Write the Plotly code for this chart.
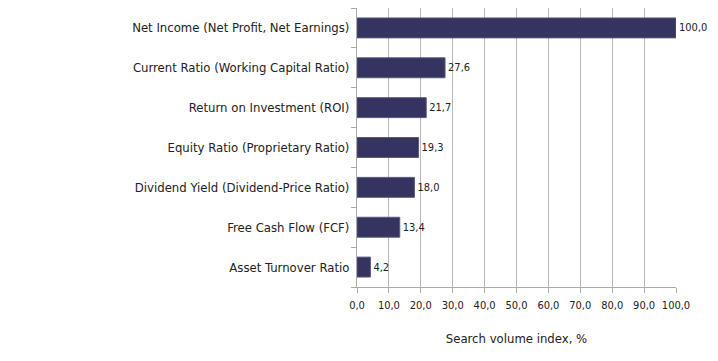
import plotly.graph_objects as go

categories = [
    "Net Income (Net Profit, Net Earnings)",
    "Current Ratio (Working Capital Ratio)",
    "Return on Investment (ROI)",
    "Equity Ratio (Proprietary Ratio)",
    "Dividend Yield (Dividend-Price Ratio)",
    "Free Cash Flow (FCF)",
    "Asset Turnover Ratio",
]
values = [100.0, 27.6, 21.7, 19.3, 18.0, 13.4, 4.2]
x_ticks = [0, 10, 20, 30, 40, 50, 60, 70, 80, 90, 100]

FONT = "DejaVu Sans Condensed, Roboto, sans-serif"

fig = go.Figure(
    go.Bar(
        x=values,
        y=categories,
        orientation="h",
        marker=dict(color="#35335f", line=dict(color="#5a5880", width=1)),
        width=0.5,
        text=values,
        texttemplate="%{x:.1f}",
        textposition="outside",
        textfont=dict(family=FONT, size=11, color="#222222"),
        cliponaxis=False,
        hoverinfo="skip",
    )
)

# the page body adds an 8px offset, so the margins compensate for it
fig.update_layout(
    width=718,
    height=361,
    margin=dict(l=349, r=50, t=0, b=82, autoexpand=False),
    paper_bgcolor="white",
    plot_bgcolor="white",
    separators=", ",
    showlegend=False,
    font=dict(family=FONT, color="#222222"),
)

fig.update_xaxes(
    range=[0, 100],
    tickvals=x_ticks,
    tickformat=".1f",
    ticks="outside",
    ticklen=5,
    tickcolor="#aaaaaa",
    showline=True,
    mirror=True,
    linecolor="#aaaaaa",
    linewidth=1,
    showgrid=True,
    gridcolor="#b8b8b8",
    gridwidth=1,
    zeroline=False,
    automargin=False,
    ticklabelstandoff=3,
    tickfont=dict(family=FONT, size=11, color="#222222"),
    title=dict(text="Search volume index, %", font=dict(family=FONT, size=13, color="#222222"), standoff=22),
)

fig.update_yaxes(
    categoryorder="array",
    categoryarray=categories[::-1],
    autorange=False,
    range=[-0.5, 6.5],
    ticks="outside",
    tickson="boundaries",
    ticklen=5,
    tickcolor="#aaaaaa",
    showline=True,
    linecolor="#aaaaaa",
    linewidth=1,
    showgrid=False,
    automargin=False,
    tickfont=dict(family=FONT, size=13, color="#222222"),
    ticklabelstandoff=4,
)

fig.write_html("out.html")
